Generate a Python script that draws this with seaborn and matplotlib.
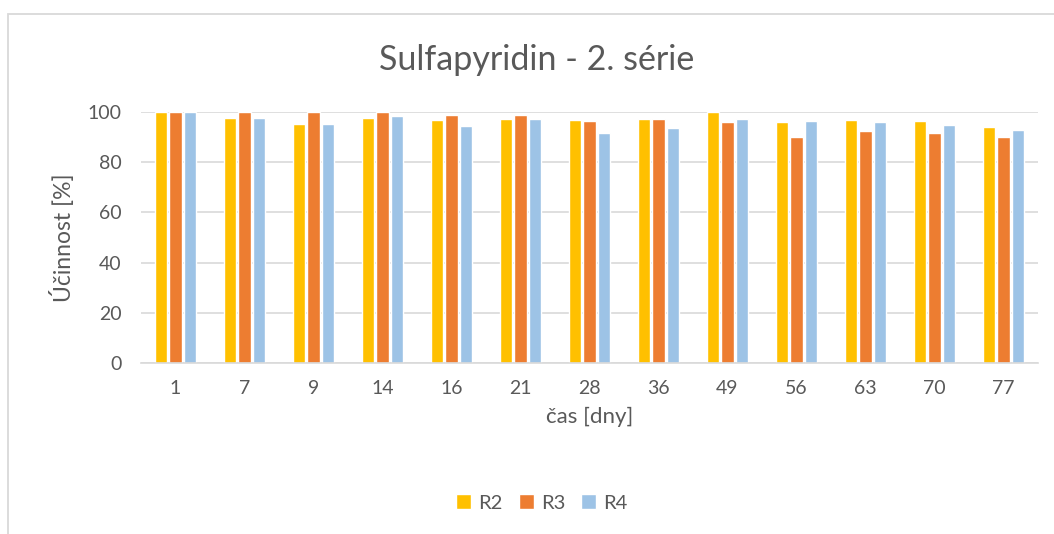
import numpy as np
import pandas as pd
import matplotlib
matplotlib.use('Agg')
import matplotlib.pyplot as plt
import seaborn as sns
from matplotlib.patches import Rectangle, Patch

# data
days = ['1', '7', '9', '14', '16', '21', '28', '36', '49', '56', '63', '70', '77']
r2 = [100, 97.5, 95.3, 97.7, 96.8, 97.3, 96.9, 97.3, 100, 96.1, 96.9, 96.3, 94.0]
r3 = [100, 100, 100, 100, 98.7, 98.9, 96.5, 97.1, 96.1, 89.9, 92.3, 91.7, 90.1]
r4 = [100, 97.7, 95.3, 98.3, 94.5, 97.3, 91.5, 93.7, 97.3, 96.5, 96.1, 94.8, 92.7]
series = ['R2', 'R3', 'R4']
colors = ['#FFC000', '#ED7D31', '#9DC3E6']

df = pd.DataFrame({'den': days * 3,
                   'rada': ['R2'] * 13 + ['R3'] * 13 + ['R4'] * 13,
                   'ucinnost': r2 + r3 + r4})

sns.set_style('white')
plt.rcParams['font.family'] = ['Lato', 'DejaVu Sans']
txt = '#595959'

W, H = 1054, 534
fig = plt.figure(figsize=(W / 100, H / 100), dpi=100)
# chart frame (cropped on right/bottom)
fig.patches.append(Rectangle((8 / W, -0.1), 1.2, 1 - 14 / H + 0.1, transform=fig.transFigure,
                             fill=False, edgecolor='#D9D9D9', linewidth=1.3))

ax = fig.add_axes([141 / W, 1 - 363 / H, (1038 - 141) / W, (363 - 112) / H])
sns.barplot(data=df, x='den', y='ucinnost', hue='rada', order=days, hue_order=series,
            palette=colors, width=0.63, gap=0.12, ax=ax, legend=False, saturation=1)

ax.set_ylim(0, 100)
ax.set_xlim(-0.5, len(days) - 0.5)
ax.set_yticks(range(0, 101, 20))
ax.yaxis.grid(True, color='#D9D9D9', linewidth=1.2)
ax.set_axisbelow(True)
for s in ['top', 'right', 'left']:
    ax.spines[s].set_visible(False)
ax.spines['bottom'].set_color('#D9D9D9')
ax.spines['bottom'].set_linewidth(1.2)
ax.tick_params(axis='both', length=0, labelsize=14, labelcolor=txt)
ax.tick_params(axis='x', pad=12)
ax.tick_params(axis='y', pad=14)
ax.set_xlabel('čas [dny]', fontsize=16, color=txt, labelpad=7)
ax.set_ylabel('Účinnost [%]', fontsize=16.5, color=txt, labelpad=9)

fig.text(537 / W, 1 - 60 / H, 'Sulfapyridin - 2. série', ha='center', va='center',
         fontsize=24.5, color=txt)

handles = [Patch(facecolor=c, label=s) for c, s in zip(colors, series)]
fig.legend(handles=handles, loc='center', bbox_to_anchor=(542 / W, 1 - 503 / H), ncol=3,
           frameon=False, fontsize=14.5, labelcolor=txt, handlelength=0.75, handleheight=0.75,
           handletextpad=0.35, columnspacing=0.8)

fig.savefig('out.png', dpi=100)
